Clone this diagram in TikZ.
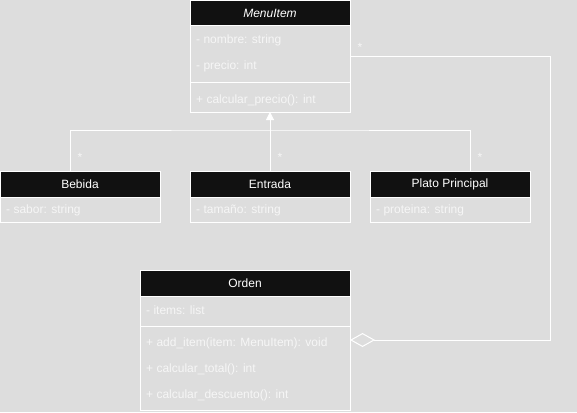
\documentclass[tikz,border=0pt]{standalone}
\usepackage{fontspec}
\setmainfont{Liberation Sans}
\usetikzlibrary{arrows.meta}
\definecolor{bg}{HTML}{DDDDDD}
\definecolor{hdr}{HTML}{111111}
\definecolor{txt}{HTML}{F6F6F6}
\begin{document}
\begin{tikzpicture}[x=1pt,y=-1pt,
  every node/.style={font=\fontsize{12}{14}\selectfont},
  hdrbox/.style={draw=white, line width=1pt, fill=hdr, text=white, inner sep=0pt, outer sep=0pt, minimum height=26pt},
  compbox/.style={draw=white, line width=1pt, inner sep=0pt, outer sep=0pt},
  attr/.style={anchor=west, text=txt, inner sep=0pt},
  mult/.style={text=txt, inner sep=0pt},
  conn/.style={draw=white, line width=1pt}]
\fill[bg] (0,0) rectangle (577,412);
\useasboundingbox (0,0) rectangle (577,412);

% MenuItem
\node[hdrbox, minimum width=160pt, minimum height=25pt, anchor=north west] (mi) at (190,1) {\itshape MenuItem};
\node[compbox, minimum width=160pt, minimum height=56pt, anchor=north] (mia) at (mi.south) {};
\node[compbox, minimum width=160pt, minimum height=30pt, anchor=north] (mim) at (mia.south) {};
\node[attr] (mi1) at (196,40) {- nombre: string};
\node[attr] (mi2) at (196,66) {- precio: int};
\node[attr] (mi3) at (196,100) {+ calcular\_precio(): int};

% Bebida
\node[hdrbox, minimum width=160pt, anchor=north west] (be) at (0,171) {Bebida};
\node[compbox, minimum width=160pt, minimum height=25pt, anchor=north] (bea) at (be.south) {};
\node[attr] (be1) at (6,210) {- sabor: string};

% Entrada
\node[hdrbox, minimum width=160pt, anchor=north west] (en) at (190,171) {Entrada};
\node[compbox, minimum width=160pt, minimum height=25pt, anchor=north] (ena) at (en.south) {};
\node[attr] (en1) at (196,210) {- tamaño: string};

% Plato Principal
\node[hdrbox, minimum width=160pt, anchor=north west] (pp) at (370,171) {Plato Principal};
\node[compbox, minimum width=160pt, minimum height=25pt, anchor=north] (ppa) at (pp.south) {};
\node[attr] (pp1) at (376,210) {- proteina: string};

% Orden
\node[hdrbox, minimum width=210pt, anchor=north west] (or) at (140,270) {Orden};
\node[compbox, minimum width=210pt, minimum height=30pt, anchor=north] (ora) at (or.south) {};
\node[compbox, minimum width=210pt, minimum height=84pt, anchor=north] (orm) at (ora.south) {};
\node[attr] (or1) at (146,310) {- items: list};
\node[attr] (or2) at (146,343) {+ add\_item(item: MenuItem): void};
\node[attr] (or3) at (146,369) {+ calcular\_total(): int};
\node[attr] (or4) at (146,395) {+ calcular\_descuento(): int};

% inheritance
\coordinate (j) at (270,130);
\draw[conn] ([xshift=-10pt]be.north) |- (j) -| ([xshift=20pt]pp.north);
\draw[conn, -{Triangle[width=8pt,length=8pt,fill=white]}] (en.north) -- (mim.south);
\node[mult] (s1) at (80,157) {*};
\node[mult] (s2) at (280,157) {*};
\node[mult] (s3) at (480,157) {*};

% aggregation
\coordinate (aggO) at (350,340);
\coordinate (aggM) at (350,56);
\coordinate (cr) at (550,340);
\draw[conn, {Diamond[open,length=25pt,width=14pt]}-] (aggO) -- (cr) |- (aggM);
\node[mult] (s4) at (360,47) {*};
\end{tikzpicture}
\end{document}
